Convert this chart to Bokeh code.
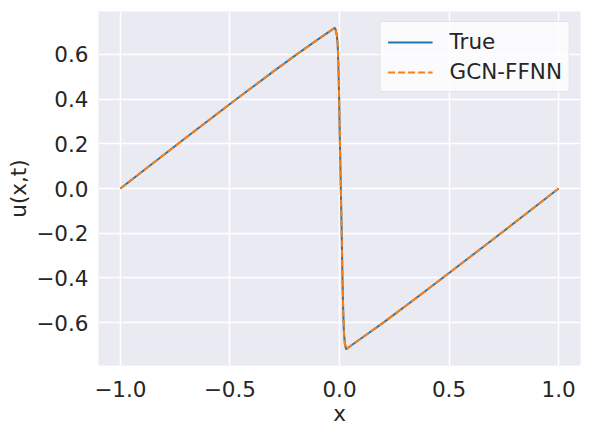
from bokeh.plotting import figure
from bokeh.models import FixedTicker, CustomJSTickFormatter, Range1d, Legend, LegendItem
from bokeh.embed import file_html
from bokeh.resources import INLINE

# ---- data ----
x_vals = [-1.0, -0.9, -0.8, -0.7, -0.6, -0.5, -0.4, -0.3, -0.2, -0.1, -0.05, -0.022,
          -0.018, -0.012, -0.008, -0.005, -0.002, 0.002, 0.006, 0.010, 0.014, 0.017,
          0.020, 0.024, 0.030, 0.05, 0.1, 0.2, 0.3, 0.4, 0.5, 0.6, 0.7, 0.8, 0.9, 1.0]
u_true = [0.0, 0.076, 0.152, 0.228, 0.303, 0.378, 0.452, 0.525, 0.597, 0.666, 0.700, 0.719,
          0.712, 0.685, 0.64, 0.55, 0.42, 0.2, 0.0, -0.2, -0.42, -0.55,
          -0.64, -0.69, -0.719, -0.705, -0.670, -0.600, -0.527, -0.453, -0.378, -0.303, -0.228, -0.152, -0.076, 0.0]
u_pred = [0.0, 0.076, 0.152, 0.228, 0.303, 0.378, 0.452, 0.525, 0.597, 0.666, 0.700, 0.718,
          0.711, 0.684, 0.64, 0.55, 0.42, 0.2, 0.0, -0.2, -0.42, -0.55,
          -0.64, -0.69, -0.718, -0.705, -0.670, -0.600, -0.527, -0.453, -0.378, -0.303, -0.228, -0.152, -0.076, 0.0]
x_ticks = [-1.0, -0.5, 0.0, 0.5, 1.0]
y_ticks = [-0.6, -0.4, -0.2, 0.0, 0.2, 0.4, 0.6]
series_names = ["True", "GCN-FFNN"]

FONT = "DejaVu Sans"
TXT = "#262626"
FS = "21.5px"

p = figure(width=590, height=431, output_backend="svg", toolbar_location=None,
           x_range=Range1d(-1.1, 1.1), y_range=Range1d(-0.792, 0.792),
           min_border_left=98, min_border_right=10, min_border_top=11, min_border_bottom=66)
p.background_fill_color = "#EAEAF2"
p.border_fill_color = "white"
p.outline_line_color = None

fmt = CustomJSTickFormatter(code="return tick.toFixed(1).replace('-', '\u2212');")
for ax, ticks in ((p.xaxis[0], x_ticks), (p.yaxis[0], y_ticks)):
    ax.ticker = FixedTicker(ticks=ticks)
    ax.formatter = fmt
    ax.axis_line_color = None
    ax.major_tick_line_color = None
    ax.minor_tick_line_color = None
    ax.major_tick_out = 0
    ax.major_tick_in = 0
    ax.major_label_text_font = FONT
    ax.major_label_text_font_size = FS
    ax.major_label_text_color = TXT
    ax.axis_label_text_font = FONT
    ax.axis_label_text_font_size = FS
    ax.axis_label_text_font_style = "normal"
    ax.axis_label_text_color = TXT

p.xaxis.axis_label = "x"
p.yaxis.axis_label = "u(x,t)"
p.xaxis.major_label_standoff = 15
p.xaxis.axis_label_standoff = 1
p.yaxis.major_label_standoff = 10
p.yaxis.axis_label_standoff = 2

p.grid.grid_line_color = "white"
p.grid.grid_line_width = 1.5
p.xgrid.ticker = FixedTicker(ticks=x_ticks)
p.ygrid.ticker = FixedTicker(ticks=y_ticks)

r1 = p.line(x_vals, u_true, line_color="#1f77b4", line_width=2)
r2 = p.line(x_vals, u_pred, line_color="#ff7f0e", line_width=2, line_dash="7 3")

legend = Legend(items=[LegendItem(label=series_names[0], renderers=[r1]),
                       LegendItem(label=series_names[1], renderers=[r2])],
                location="top_right")
legend.margin = 10
legend.padding = 7
legend.spacing = 5
legend.glyph_width = 45
legend.label_standoff = 17
legend.label_text_font = FONT
legend.label_text_font_size = FS
legend.label_text_color = TXT
legend.background_fill_color = "white"
legend.background_fill_alpha = 0.8
legend.border_line_color = "#cccccc"
legend.border_line_width = 1
p.add_layout(legend)

open("out.html", "w").write(file_html(p, INLINE))
